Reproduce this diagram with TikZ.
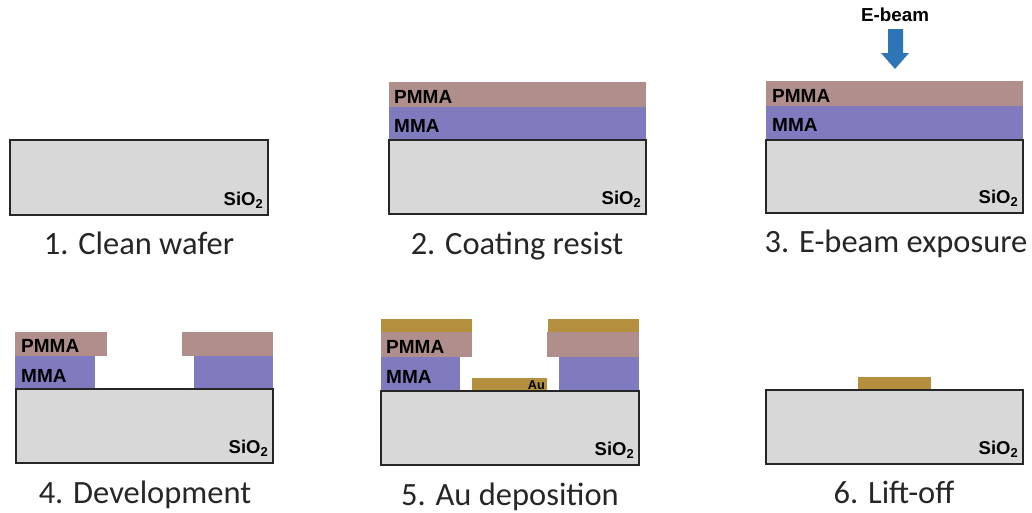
\documentclass[tikz,border=0pt]{standalone}
\usepackage{fontspec}
\setmainfont{Carlito}
\newfontfamily\labelfont{Liberation Sans}
\definecolor{pmmacol}{HTML}{B08E8B}
\definecolor{mmacol}{HTML}{7F7BBE}
\definecolor{oxidecol}{HTML}{D8D8D8}
\definecolor{aucol}{HTML}{B38F3E}
\definecolor{beamcol}{HTML}{2E75B6}

\begin{document}
\begin{tikzpicture}[x=1pt,y=-1pt]
	\tikzstyle{oxide} = [draw=black!85,line width=1.3pt,fill=oxidecol]
	\tikzstyle{pmma} = [fill=pmmacol]
	\tikzstyle{mma} = [fill=mmacol]
	\tikzstyle{gold} = [fill=aucol]
	\tikzstyle{annot} = [font=\labelfont\bfseries\fontsize{19}{19}\selectfont,text=black,inner sep=0pt]
	\tikzstyle{annot2} = [font=\labelfont\bfseries\fontsize{12.7}{12.7}\selectfont,text=black,inner sep=0pt]
	\tikzstyle{annot3} = [font=\labelfont\bfseries\fontsize{18.5}{18.5}\selectfont,text=black,inner sep=0pt]
	\tikzstyle{caption} = [font=\fontsize{32.5}{32.5}\selectfont,text=black!85,inner sep=0pt,anchor=base]

	\useasboundingbox (0,0) rectangle (1032,512);

	%%% DRAW THE RESIST
	\fill[pmma] (389,82) rectangle (646,107);
	\fill[mma] (389,107) rectangle (646,140);
	\fill[pmma] (766,81) rectangle (1023,106);
	\fill[mma] (766,106) rectangle (1023,140);

	\fill[pmma] (15,332) rectangle (107,356);
	\fill[pmma] (182,332) rectangle (273,356);
	\fill[mma] (15,356) rectangle (95,389);
	\fill[mma] (194,356) rectangle (273,389);

	\fill[pmma] (381,332) rectangle (472,357);
	\fill[pmma] (547,332) rectangle (639,357);
	\fill[mma] (381,357) rectangle (460,391);
	\fill[mma] (559,357) rectangle (639,391);

	%%% DRAW THE GOLD
	\fill[gold] (381,319) rectangle (472,332);
	\fill[gold] (548,319) rectangle (639,332);
	\fill[gold] (472,378) rectangle (547,391);
	\fill[gold] (858,377) rectangle (931,390);

	%%% DRAW THE SUBSTRATES
	\foreach \name / \xa / \ya / \xb / \yb in {1/10/140/268/215, 2/389/140/646/214, 3/766/140/1023/213, 4/16/389/273/463, 5/381/391/639/465, 6/766/390/1023/464}
	{
		\draw[oxide] (\xa,\ya) rectangle (\xb,\yb);
		\node[annot3,anchor=base east] (S-\name) at (\xb-4.5,\yb-10) {SiO\textsubscript{2}};
	}

	%%% DRAW THE ARROW
	\node[annot,font=\labelfont\bfseries\fontsize{18.8}{18.8}\selectfont] (beam) at (895,15) {E-beam};
	\fill[beamcol] (888,29) -- (903,29) -- (903,53) -- (909,53) -- (895,69) -- (881,53) -- (888,53) -- cycle;

	%%% ANNOTATE
	\node[annot,anchor=base west] (P-2) at (394,103) {PMMA};
	\node[annot,anchor=base west] (M-2) at (394,132) {MMA};
	\node[annot,anchor=base west] (P-3) at (772,102) {PMMA};
	\node[annot,anchor=base west] (M-3) at (772,131) {MMA};
	\node[annot,anchor=base west] (P-4) at (21,352) {PMMA};
	\node[annot,anchor=base west] (M-4) at (21,382) {MMA};
	\node[annot,anchor=base west] (P-5) at (386,353) {PMMA};
	\node[annot,anchor=base west] (M-5) at (386,383) {MMA};
	\node[annot2,anchor=base east] (A-5) at (545,389) {Au};

	\node[caption] (C-1) at (139,254) {1. Clean wafer};
	\node[caption] (C-2) at (517,254) {2. Coating resist};
	\node[caption] (C-3) at (896,252) {3. E-beam exposure};
	\node[caption] (C-4) at (145,503) {4. Development};
	\node[caption] (C-5) at (510,505) {5. Au deposition};
	\node[caption] (C-6) at (894,503) {6. Lift-off};
\end{tikzpicture}
\end{document}
